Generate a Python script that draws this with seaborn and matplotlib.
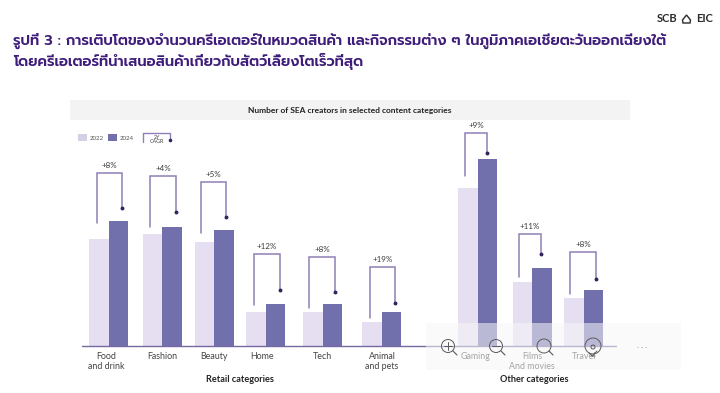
import matplotlib
matplotlib.use("Agg")
import matplotlib.pyplot as plt
from matplotlib.patches import Circle, Polygon, Rectangle
import pandas as pd
import seaborn as sns

# values are read off the picture, no scale is printed so units are arbitrary
categories = ["Food\nand drink", "Fashion", "Beauty", "Home", "Tech", "Animal\nand pets",
              "Gaming", "Films\nAnd movies", "Travel"]
values_2022 = [10.7, 11.2, 10.4, 3.4, 3.4, 2.4, 15.8, 6.4, 4.8]
values_2024 = [12.5, 11.9, 11.6, 4.2, 4.2, 3.4, 18.7, 7.8, 5.6]
cagr_labels = ["+8%", "+4%", "+5%", "+12%", "+8%", "+19%", "+9%", "+11%", "+8%"]

# brackets, same units as the bars
bracket_start = [12.3, 11.9, 11.3, 4.1, 3.8, 2.8, 17.0, 6.9, 5.2]
bracket_top = [17.3, 17.0, 16.4, 9.2, 8.9, 7.9, 21.3, 11.2, 9.4]
bracket_end = [13.8, 13.4, 12.9, 5.6, 5.4, 4.3, 19.3, 9.2, 6.7]

# horizontal layout, in pixels of the 720 wide picture
slot_x = [108.5, 162, 214, 265.5, 322.5, 381.5, 477.5, 532, 583.5]
label_x = [106, 162, 214, 262, 322, 382, 476, 532, 584]
left_x = [96.7, 150, 200.7, 254, 309, 370, 465, 519, 570]
right_x = [122, 176, 226, 280, 335, 395, 487, 541, 596]

C_2022 = "#E6DFF2"
C_2024 = "#7170AC"
C_LINE = "#8F80B8"
C_DOT = "#33235F"
C_TITLE = "#3E1C7A"
C_TEXT = "#3A3A3A"

sns.set_theme(style="white")
plt.rcParams["font.family"] = ["Lato", "DejaVu Sans"]
thai_font = ["Prompt", "Noto Sans Thai", "DejaVu Sans"]

df = pd.DataFrame({"x": slot_x, "2022": values_2022, "2024": values_2024})
df = df.melt(id_vars="x", var_name="year", value_name="creators")

fig = plt.figure(figsize=(7.2, 3.93), dpi=100)
ax = fig.add_axes([0, 47 / 393, 1, 346 / 393])
ax.patch.set_alpha(0)

sns.barplot(data=df, x="x", y="creators", hue="year", native_scale=True, ax=ax,
            palette={"2022": C_2022, "2024": C_2024}, width=39 / 51.5, gap=0,
            legend=False, saturation=1, linewidth=0)
ax.set_xlim(0, 720)
ax.set_ylim(0, 34.6)
ax.set_xlabel("")
ax.set_ylabel("")
ax.set_yticks([])
ax.set_xticks(label_x, categories)
ax.tick_params(axis="x", length=0, pad=4, labelsize=6.4, labelcolor="#444444")
for label in ax.get_xticklabels():
    label.set_linespacing(1.15)
sns.despine(ax=ax, left=True, bottom=True)

# shared baseline
ax.plot([82, 616], [0, 0], color="#75699F", lw=1, clip_on=False, zorder=5)

# CAGR brackets
for i, text in enumerate(cagr_labels):
    ax.plot([left_x[i], left_x[i], right_x[i], right_x[i]],
            [bracket_start[i], bracket_top[i], bracket_top[i], bracket_end[i]],
            color=C_LINE, lw=1.1, solid_joinstyle="miter", zorder=4)
    ax.plot(right_x[i], bracket_end[i], "o", ms=1.8, color=C_DOT, zorder=5)
    ax.text((left_x[i] + right_x[i]) / 2, bracket_top[i] + 0.4, text, ha="center", va="bottom",
            fontsize=5.8, color=C_TEXT)

# overlay in picture pixels, everything that is not data
top = fig.add_axes([0, 0, 1, 1], zorder=10)
top.set_xlim(0, 720)
top.set_ylim(393, 0)
top.axis("off")

top.text(13, 45, "รูปที่ 3 : การเติบโตของจำนวนครีเอเตอร์ในหมวดสินค้า และกิจกรรมต่าง ๆ ในภูมิภาคเอเชียตะวันออกเฉียงใต้",
         family=thai_font, fontsize=10.4, fontweight="semibold", color=C_TITLE, va="baseline")
top.text(13, 66, "โดยครีเอเตอร์ที่นำเสนอสินค้าเกี่ยวกับสัตว์เลี้ยงโตเร็วที่สุด",
         family=thai_font, fontsize=10.4, fontweight="semibold", color=C_TITLE, va="baseline")

# logo
top.text(657, 19, "SCB", fontsize=8, fontweight="bold", color="#2B2B2B", va="center", ha="left")
top.text(713, 19, "EIC", fontsize=8, fontweight="bold", color="#2B2B2B", va="center", ha="right")
top.add_patch(Polygon([(683, 23), (682.5, 20), (686.5, 15), (690.5, 20), (690, 23)], closed=True,
                      fill=False, ec="#2B2B2B", lw=1))

# header band
top.add_patch(Rectangle((70, 100), 560, 20, fc="#F3F3F3", ec="none"))
top.text(350, 110, "Number of SEA creators in selected content categories", ha="center", va="center",
         fontsize=6, fontweight="bold", color="#222222")

# legend
top.add_patch(Rectangle((78, 134), 9, 7, fc="#D5D0E6", ec="none"))
top.text(90, 138, "2022", fontsize=4.4, va="center", color="#555555")
top.add_patch(Rectangle((108, 134), 9, 7, fc=C_2024, ec="none"))
top.text(120, 138, "2024", fontsize=4.4, va="center", color="#555555")
top.plot([143, 143, 170, 170], [142, 133, 133, 140], color=C_LINE, lw=1)
top.plot(170, 140, "o", ms=1.6, color=C_DOT)
top.text(156.5, 139.5, "2Y\nCAGR", ha="center", va="center", fontsize=3.9, color="#444444", linespacing=0.9)

# group titles
top.text(240, 380, "Retail categories", ha="center", va="center", fontsize=6.6, fontweight="bold", color="#222222")
top.text(534, 380, "Other categories", ha="center", va="center", fontsize=6.6, fontweight="bold", color="#222222")

# the viewer toolbar lying over the chart
top.add_patch(Rectangle((426, 323), 255, 47, fc="#F6F6F7", ec="none", alpha=0.55))
C_ICON = "#5A5A5A"
for cx, r in [(448, 6.5), (496, 6.5), (544, 7), (593, 8)]:
    top.add_patch(Circle((cx, 346), r, fill=False, ec=C_ICON, lw=0.7))
for cx, d in [(448, 5), (496, 5), (544, 5)]:
    top.plot([cx + d, cx + d + 4], [346 + d, 346 + d + 4], color=C_ICON, lw=0.8)
top.plot([444, 452], [346, 346], color=C_ICON, lw=0.7)
top.plot([448, 448], [342, 350], color=C_ICON, lw=0.7)
top.plot([492, 500], [346, 346], color=C_ICON, lw=0.7)
top.add_patch(Circle((593, 347), 2, fill=False, ec=C_ICON, lw=0.7))
top.plot([597, 592], [351, 356], color=C_ICON, lw=0.7)
top.plot([589, 592, 595], [353, 356, 356], color=C_ICON, lw=0.7)
top.text(642, 346, ". . .", ha="center", va="center", fontsize=6, color="#888888")

fig.savefig("out.png", dpi=100)
